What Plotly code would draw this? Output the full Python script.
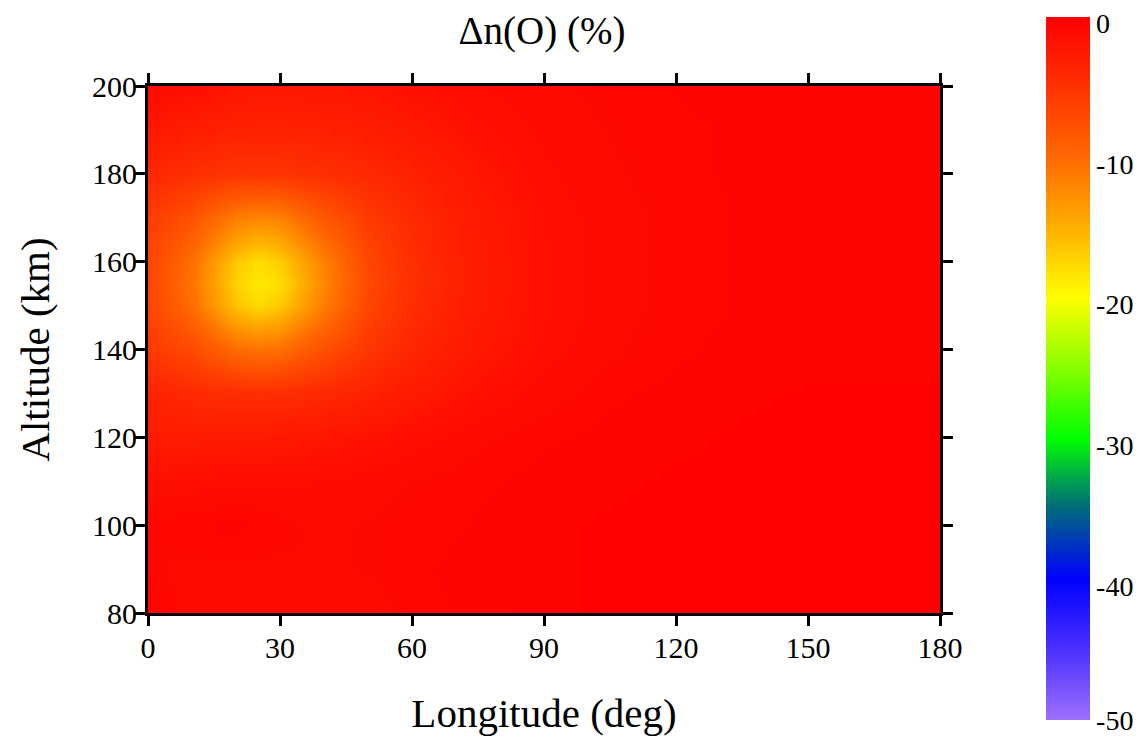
import plotly.graph_objects as go

# Longitude (deg) and altitude (km) grid nodes
lon = [0, 10, 20, 25, 30, 40, 50, 60, 75, 90, 105, 120, 135, 150, 165, 180]
alt = [80, 90, 100, 110, 120, 130, 140, 150, 155, 160, 170, 180, 190, 200]

# Δn(O) (%), one row per altitude (bottom to top)
dn_80  = [-0.5, -1.0, -1.2, -1.2, -1.2, -1.1, -1.0, -0.7, -0.4, -0.3, -0.2, -0.2, -0.2, -0.2, -0.2, -0.2]
dn_90  = [-0.8, -0.9, -0.9, -0.9, -0.9, -0.9, -0.8, -0.6, -0.4, -0.3, -0.2, -0.2, -0.2, -0.2, -0.2, -0.2]
dn_100 = [-0.8, -0.5, -0.4, -0.5, -0.7, -0.9, -0.8, -0.7, -0.5, -0.3, -0.2, -0.2, -0.2, -0.2, -0.2, -0.2]
dn_110 = [-1.5, -1.4, -1.3, -1.3, -1.3, -1.2, -1.0, -0.8, -0.6, -0.4, -0.3, -0.2, -0.2, -0.2, -0.2, -0.2]
dn_120 = [-2.8, -2.7, -2.6, -2.5, -2.4, -2.1, -1.8, -1.4, -0.9, -0.6, -0.4, -0.3, -0.2, -0.2, -0.2, -0.2]
dn_130 = [-3.5, -4.2, -4.6, -4.7, -4.6, -4.1, -3.4, -2.6, -1.6, -1.0, -0.6, -0.4, -0.3, -0.2, -0.2, -0.2]
dn_140 = [-5.5, -7.2, -10.0, -10.6, -10.3, -7.6, -5.3, -3.8, -2.3, -1.4, -0.9, -0.6, -0.4, -0.4, -0.4, -0.4]
dn_150 = [-6.6, -10.2, -16.2, -17.6, -16.6, -11.4, -6.8, -4.5, -2.6, -1.6, -1.0, -0.7, -0.5, -0.4, -0.4, -0.4]
dn_155 = [-6.8, -10.7, -17.2, -18.6, -17.9, -12.1, -7.0, -4.7, -2.7, -1.6, -1.0, -0.7, -0.5, -0.4, -0.4, -0.4]
dn_160 = [-6.7, -10.4, -16.5, -17.9, -16.9, -11.7, -6.9, -4.6, -2.7, -1.6, -1.0, -0.7, -0.5, -0.4, -0.4, -0.4]
dn_170 = [-5.8, -8.0, -11.4, -12.1, -11.7, -8.4, -5.8, -4.2, -2.5, -1.5, -1.0, -0.7, -0.5, -0.4, -0.4, -0.4]
dn_180 = [-4.0, -4.7, -5.2, -5.2, -5.1, -4.7, -4.1, -3.3, -2.1, -1.3, -0.9, -0.6, -0.5, -0.4, -0.4, -0.4]
dn_190 = [-2.4, -2.9, -3.3, -3.4, -3.4, -3.2, -2.9, -2.4, -1.6, -1.1, -0.8, -0.6, -0.5, -0.4, -0.4, -0.4]
dn_200 = [-0.9, -1.5, -2.0, -2.2, -2.2, -2.1, -1.9, -1.6, -1.2, -0.9, -0.7, -0.5, -0.4, -0.4, -0.4, -0.4]

dn = [dn_80, dn_90, dn_100, dn_110, dn_120, dn_130, dn_140,
      dn_150, dn_155, dn_160, dn_170, dn_180, dn_190, dn_200]

x_ticks = [0, 30, 60, 90, 120, 150, 180]
y_ticks = [80, 100, 120, 140, 160, 180, 200]
cb_ticks = [0, -10, -20, -30, -40, -50]

colorscale = [
    [0.00, "rgb(158,112,255)"],
    [0.10, "rgb(75,48,255)"],
    [0.20, "rgb(0,0,255)"],
    [0.30, "rgb(0,105,125)"],
    [0.34, "rgb(0,160,80)"],
    [0.40, "rgb(0,255,0)"],
    [0.50, "rgb(135,255,0)"],
    [0.60, "rgb(255,255,0)"],
    [0.70, "rgb(255,175,0)"],
    [0.80, "rgb(255,105,0)"],
    [0.90, "rgb(255,50,0)"],
    [1.00, "rgb(255,0,0)"],
]

FONT = "Liberation Serif, Times New Roman, serif"

# page body has an 8 px margin: work in figure coordinates offset by 8 px
OFF = 8
W, H = 1147 - OFF, 739 - OFF
L, T = 148 - OFF, 86 - OFF
PW, PH = 792, 527

# the reference prints colour-bar labels a few pixels below their values
cb_label_shift = 0.45

fig = go.Figure(go.Heatmap(
    x=lon, y=alt, z=dn,
    zmin=-50, zmax=0,
    zsmooth="best",
    colorscale=colorscale,
    hoverinfo="skip",
    colorbar=dict(
        x=(1046 - OFF - L) / PW, xanchor="left",
        y=(T + PH - (368.5 - OFF)) / PH, yanchor="middle",
        lenmode="pixels", len=703,
        thicknessmode="pixels", thickness=44,
        outlinewidth=0,
        ticks="",
        tickvals=[v - cb_label_shift for v in cb_ticks[:-1]] + [cb_ticks[-1]],
        ticktext=[str(v) for v in cb_ticks],
        tickfont=dict(family=FONT, size=28, color="black"),
        ticklabeloverflow="allow",
        xpad=0, ypad=0,
    ),
))

axis_common = dict(
    showline=True, linewidth=3, linecolor="black",
    mirror="allticks", ticks="outside", ticklen=10, tickwidth=2.5,
    tickcolor="black", showgrid=False, zeroline=False,
    tickfont=dict(family=FONT, size=30, color="black"),
)

fig.update_xaxes(
    range=[0, 180], tickvals=x_ticks,
    title=dict(text="Longitude (deg)", font=dict(family=FONT, size=41, color="black"), standoff=36),
    ticklabelstandoff=-4,
    **axis_common,
)
fig.update_yaxes(
    range=[80, 200], tickvals=y_ticks,
    title=dict(text="Altitude (km)", font=dict(family=FONT, size=41, color="black"), standoff=30),
    ticklabelstandoff=-8,
    **axis_common,
)

fig.update_layout(
    width=W, height=H,
    margin=dict(l=L, r=W - L - PW, t=T, b=H - T - PH, autoexpand=False),
    paper_bgcolor="white", plot_bgcolor="white",
    title=dict(text="Δn(O) (%)", x=(542 - OFF) / W, xanchor="center",
               y=1 - (30 - OFF) / H, yanchor="middle",
               font=dict(family=FONT, size=39, color="black")),
    showlegend=False,
)

fig.write_html("out.html")
